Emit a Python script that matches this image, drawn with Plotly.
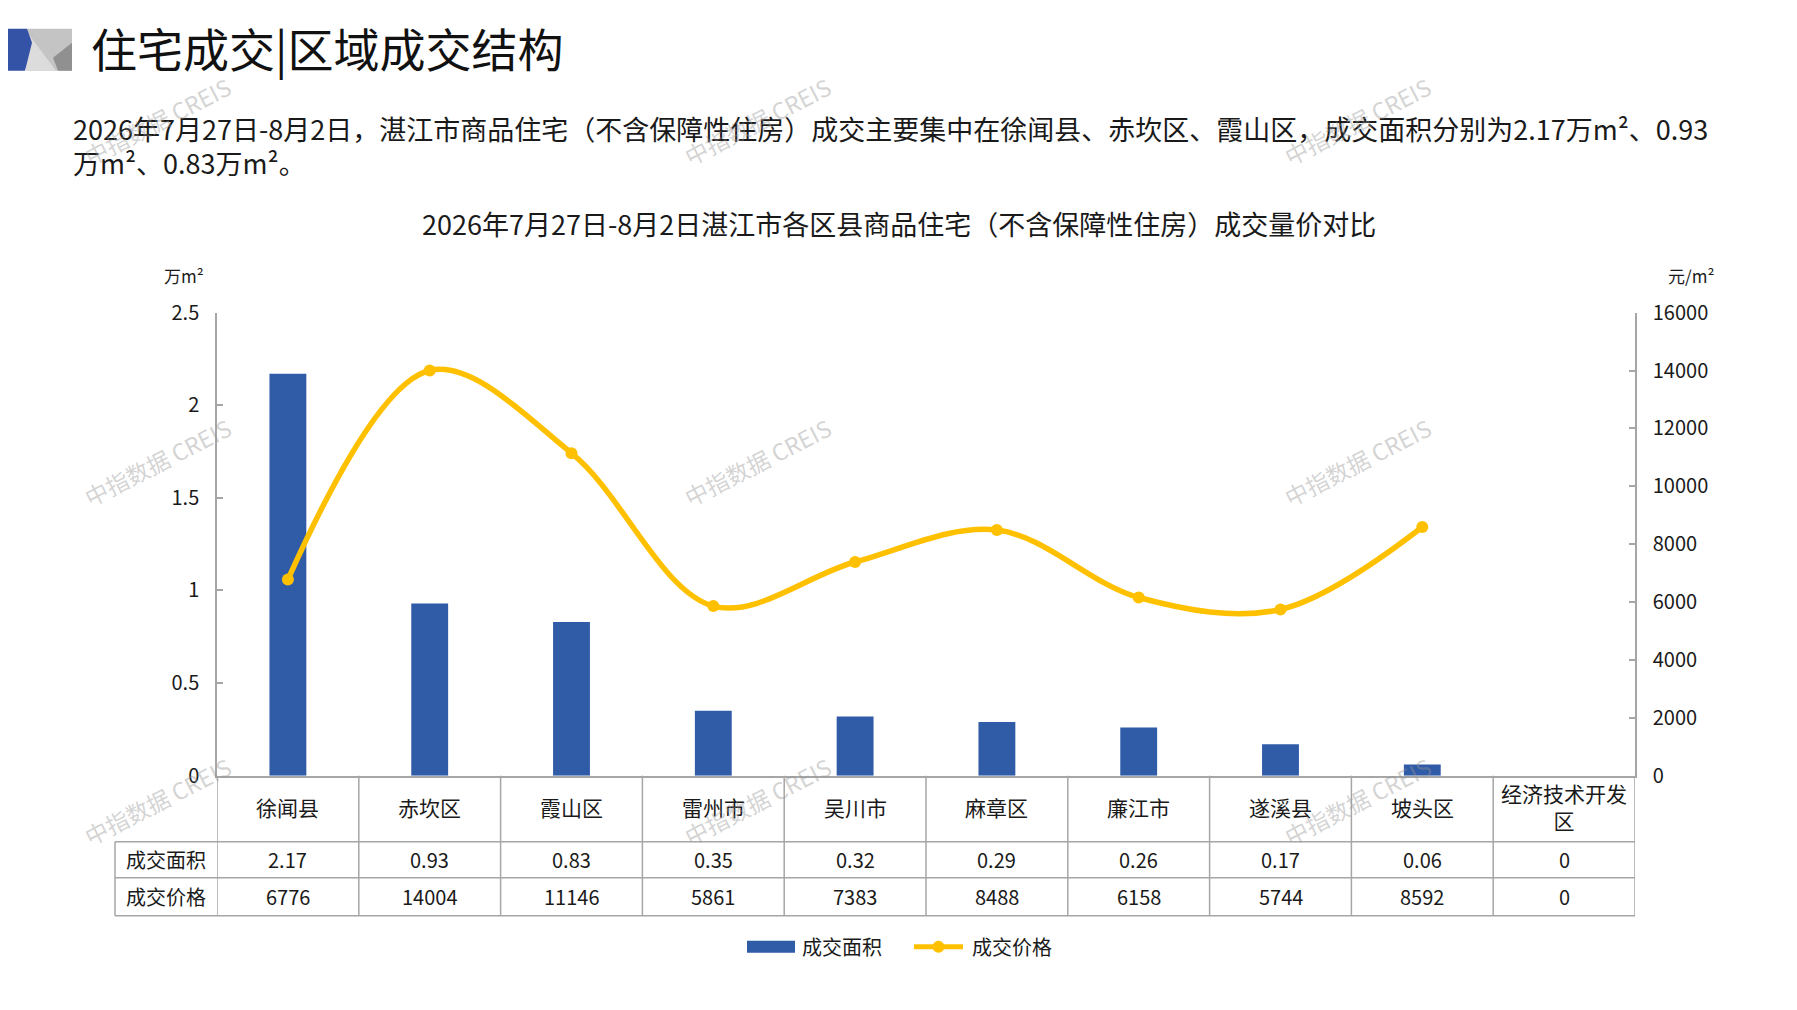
import plotly.graph_objects as go

# ---------------- data ----------------
categories = ["徐闻县", "赤坎区", "霞山区", "雷州市", "吴川市", "麻章区", "廉江市", "遂溪县", "坡头区", "经济技术开发区"]
category_labels = ["徐闻县", "赤坎区", "霞山区", "雷州市", "吴川市", "麻章区", "廉江市", "遂溪县", "坡头区", "经济技术开发<br>区"]
area_values = [2.17, 0.93, 0.83, 0.35, 0.32, 0.29, 0.26, 0.17, 0.06, 0]
price_values = [6776, 14004, 11146, 5861, 7383, 8488, 6158, 5744, 8592, 0]
area_ticks = [0, 0.5, 1, 1.5, 2, 2.5]
price_ticks = [0, 2000, 4000, 6000, 8000, 10000, 12000, 14000, 16000]
series_names = ["成交面积", "成交价格"]

main_title = "住宅成交|区域成交结构"
paragraph_lines = [
    "2026年7月27日-8月2日，湛江市商品住宅（不含保障性住房）成交主要集中在徐闻县、赤坎区、霞山区，成交面积分别为2.17万m²、0.93",
    "万m²、0.83万m²。",
]
chart_title = "2026年7月27日-8月2日湛江市各区县商品住宅（不含保障性住房）成交量价对比"
left_unit = "万m²"
right_unit = "元/m²"
watermark = "中指数据 CREIS"

# ---------------- style ----------------
FONT = "Noto Sans CJK SC"
BLUE = "#2F5BA7"
GOLD = "#FFC000"
GRID = "#A6A6A6"
TXT = "#1A1A1A"

OFF = 8
W, H = 1797 - 2 * OFF, 1010 - 2 * OFF


def px(x):
    return (x - OFF) / W


def py(y):
    yy = 1.03 * y - 16
    return 1 - (yy - OFF) / H


X0, X1 = 217, 1635
Y_TOP, Y_ZERO = 312, 775
ROW_CAT, ROW_AREA, ROW_PRICE = 841, 877, 915
TBL_LEFT = 115

fig = go.Figure()

fig.add_trace(go.Bar(
    x=categories, y=area_values, name=series_names[0],
    marker=dict(color=BLUE, line=dict(width=0)),
    yaxis="y", hoverinfo="skip",
))

line_prices = [p if p > 0 else None for p in price_values]
fig.add_trace(go.Scatter(
    x=categories, y=line_prices, name=series_names[1], yaxis="y2",
    mode="lines+markers",
    line=dict(color=GOLD, width=5.5, shape="spline", smoothing=1.0),
    marker=dict(color=GOLD, size=12),
    hoverinfo="skip",
))

shapes = []
annotations = []


def text(x, y, s, size, xanchor="center", yanchor="middle", color=TXT, xref="paper", angle=0):
    annotations.append(dict(
        x=(px(x) if xref == "paper" else x), xref=xref, y=py(y), yref="paper", text=s,
        xanchor=xanchor, yanchor=yanchor, showarrow=False, textangle=angle,
        font=dict(family=FONT, size=size, color=color)))


# logo
shapes.append(dict(type="rect", xref="paper", yref="paper",
                   x0=px(27), x1=px(72), y0=py(70), y1=py(28),
                   fillcolor="#C4C4C4", line=dict(width=0), layer="above"))
shapes.append(dict(type="path", xref="paper", yref="paper",
                   path=f"M {px(26)},{py(30)} L {px(56)},{py(70)} L {px(26)},{py(70)} Z",
                   fillcolor="#DCDCDC", line=dict(width=0), layer="above"))
shapes.append(dict(type="path", xref="paper", yref="paper",
                   path=f"M {px(53)},{py(57)} L {px(72)},{py(42)} L {px(72)},{py(70)} L {px(58)},{py(70)} Z",
                   fillcolor="#909090", line=dict(width=0), layer="above"))
shapes.append(dict(type="path", xref="paper", yref="paper",
                   path=f"M {px(8)},{py(28)} L {px(27)},{py(28)} L {px(32)},{py(42)} L {px(25)},{py(70)} L {px(8)},{py(70)} Z",
                   fillcolor="#3452A6", line=dict(width=0), layer="above"))

# table grid
n = len(categories)
line_style = dict(color=GRID, width=1.5)
for yy in (ROW_CAT, ROW_AREA, ROW_PRICE):
    shapes.append(dict(type="line", xref="paper", yref="paper",
                       x0=px(TBL_LEFT), x1=px(X1), y0=py(yy), y1=py(yy), line=line_style))
shapes.append(dict(type="line", xref="paper", yref="paper",
                   x0=px(TBL_LEFT), x1=px(TBL_LEFT), y0=py(ROW_CAT), y1=py(ROW_PRICE), line=line_style))
for k in range(n + 1):
    shapes.append(dict(type="line", xref="x", yref="paper",
                       x0=k - 0.5, x1=k - 0.5, y0=py(Y_ZERO), y1=py(ROW_PRICE), line=line_style))

for i, c in enumerate(categories):
    text(c, (Y_ZERO + ROW_CAT) / 2 - 2, category_labels[i], 21, xref="x")
    a = area_values[i]
    text(c, (ROW_CAT + ROW_AREA) / 2, (f"{a:.2f}" if a else "0"), 20, xref="x")
    text(c, (ROW_AREA + ROW_PRICE) / 2, f"{price_values[i]}", 20, xref="x")
for name, (ya, yb) in zip(series_names, [(ROW_CAT, ROW_AREA), (ROW_AREA, ROW_PRICE)]):
    text((TBL_LEFT + X0) / 2, (ya + yb) / 2, name, 20)

# titles and text
text(89, 46, main_title, 46, xanchor="left", color="#111111")
for j, ln in enumerate(paragraph_lines):
    text(71, 128 + 34 * j, ln, 27, xanchor="left")
text(899, 223, chart_title, 27)
text(184, 275, left_unit, 17)
text(1691, 275, right_unit, 17)

# legend (custom)
LEG_Y = 946
shapes.append(dict(type="rect", xref="paper", yref="paper",
                   x0=px(747), x1=px(795), y0=py(952), y1=py(940),
                   fillcolor=BLUE, line=dict(width=0)))
text(800, LEG_Y, series_names[0], 20, xanchor="left")
shapes.append(dict(type="line", xref="paper", yref="paper",
                   x0=px(914), x1=px(963), y0=py(LEG_Y), y1=py(LEG_Y),
                   line=dict(color=GOLD, width=5)))
shapes.append(dict(type="circle", xref="paper", yref="paper",
                   x0=px(932.5), x1=px(944.5), y0=py(LEG_Y + 6), y1=py(LEG_Y - 6),
                   fillcolor=GOLD, line=dict(width=0)))
text(970, LEG_Y, series_names[1], 20, xanchor="left")

# watermarks
for wy in (120, 461, 800):
    for wx in (157, 757, 1357):
        text(wx, wy, watermark, 23, color="rgba(150,150,150,0.42)", angle=-27)

fig.update_layout(
    width=W, height=H,
    margin=dict(l=0, r=0, t=0, b=0),
    paper_bgcolor="white", plot_bgcolor="white",
    showlegend=False,
    bargap=0.74,
    xaxis=dict(domain=[px(X0), px(X1)], type="category", range=[-0.5, n - 0.5],
               showline=True, linecolor=GRID, linewidth=1.5, showticklabels=False,
               ticks="", showgrid=False, zeroline=False, fixedrange=True),
    yaxis=dict(domain=[py(Y_ZERO), py(Y_TOP)], range=[0, 2.5], tickvals=area_ticks,
               ticktext=[str(t) if t % 1 else str(int(t)) for t in area_ticks],
               showline=True, linecolor=GRID, linewidth=1.5, ticks="inside", ticklen=6,
               tickcolor=GRID, tickwidth=1.5, showgrid=False, zeroline=False,
               tickfont=dict(family=FONT, size=20, color=TXT), ticklabelstandoff=12,
               fixedrange=True),
    yaxis2=dict(overlaying="y", side="right", anchor="x", range=[0, 16000], tickvals=price_ticks,
                ticktext=[str(t) for t in price_ticks],
                showline=True, linecolor=GRID, linewidth=1.5, ticks="inside", ticklen=6,
                tickcolor=GRID, tickwidth=1.5, showgrid=False, zeroline=False,
                tickfont=dict(family=FONT, size=20, color=TXT), ticklabelstandoff=12,
                fixedrange=True),
    shapes=shapes,
    annotations=annotations,
)

fig.write_html("out.html")
